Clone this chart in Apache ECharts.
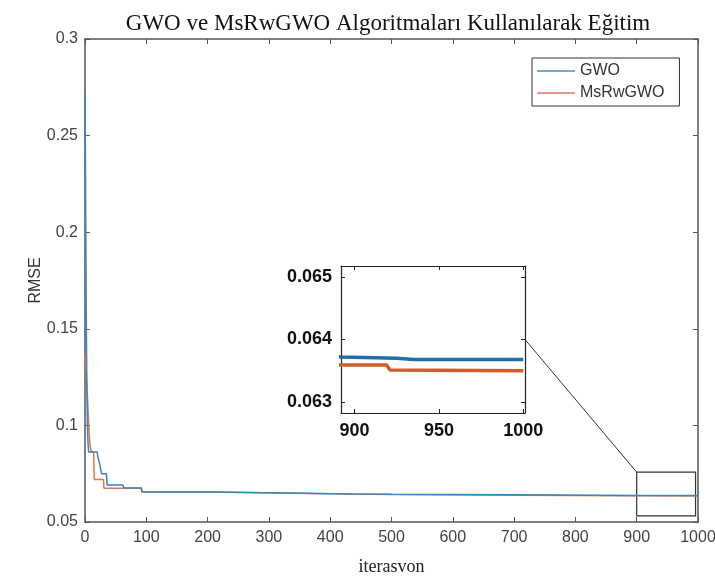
<!DOCTYPE html>
<html>
<head>
<meta charset="utf-8">
<script src="https://cdn.jsdelivr.net/npm/echarts@6/dist/echarts.min.js"></script>
<style>html,body{margin:0;padding:0;background:#fff}#c{width:715px;height:583px}</style>
</head>
<body>
<div id="c"></div>
<script>
const titleText = 'GWO ve MsRwGWO Algoritmaları Kullanılarak Eğitim';
const seriesNames = ['GWO', 'MsRwGWO'];
const xTicksMain = [0, 1000, 100];
const yTicksMain = [0.05, 0.3, 0.05];
const insetXTicks = [900, 950, 1000];
const insetYTicks = [0.063, 0.064, 0.065];

const gwoIter = [0, 1, 2, 3, 4, 5, 6, 20, 21, 23, 24, 26, 27, 35, 36, 62, 63, 92, 93, 205, 206, 430, 500, 700, 892, 925, 935, 1000];
const gwoRmse = [0.271, 0.22, 0.16, 0.12, 0.1, 0.09, 0.0862, 0.0862, 0.0835, 0.0835, 0.080, 0.080, 0.075, 0.075, 0.0692, 0.0692, 0.0676, 0.0676, 0.0655, 0.0655, 0.0646, 0.0645, 0.0643, 0.0641, 0.06372, 0.06370, 0.06368, 0.06368];

const msrIter = [0, 2, 4, 6, 8, 10, 14, 15, 30, 31, 92, 93, 205, 206, 500, 700, 892, 919, 921, 1000];
const msrRmse = [0.137, 0.128, 0.115, 0.1, 0.09, 0.0865, 0.086, 0.072, 0.072, 0.0675, 0.0675, 0.0656, 0.0655, 0.0645, 0.0642, 0.0639, 0.06359, 0.06359, 0.06351, 0.0635];

const zoomBox = [[900, 0.0532], [996, 0.0758]];

const gwoData = gwoIter.map((x, i) => [x, gwoRmse[i]]);
const msrData = msrIter.map((x, i) => [x, msrRmse[i]]);

const chart = echarts.init(document.getElementById('c'), null, {renderer: 'canvas'});
const sans = 'Liberation Sans, Arial, sans-serif';
const serif = 'Liberation Serif, Times New Roman, serif';
const axisCol = '#555';
const plain = v => String(v);

function mainX(pos, show) {
  return {
    type: 'value', gridIndex: 0, position: pos, min: xTicksMain[0], max: xTicksMain[1], interval: xTicksMain[2],
    axisLine: {show: true, onZero: false, lineStyle: {color: axisCol, width: 1.5}},
    axisTick: {show: true, inside: true, length: 5, lineStyle: {color: axisCol}},
    axisLabel: {show: show, color: '#444', fontSize: 16, fontFamily: sans, margin: 8, formatter: plain, hideOverlap: false},
    splitLine: {show: false}
  };
}
function mainY(pos, show) {
  return {
    type: 'value', gridIndex: 0, position: pos, min: yTicksMain[0], max: yTicksMain[1], interval: yTicksMain[2],
    axisLine: {show: true, onZero: false, lineStyle: {color: axisCol, width: 1.5}},
    axisTick: {show: true, inside: true, length: 5, lineStyle: {color: axisCol}},
    axisLabel: {show: show, color: '#444', fontSize: 16, fontFamily: sans, margin: 7},
    splitLine: {show: false}
  };
}
function insetX(pos, show) {
  return {
    type: 'value', gridIndex: 1, position: pos, min: 892, max: 1001,
    axisLine: {show: true, onZero: false, lineStyle: {color: '#222', width: 1.2}},
    axisTick: {show: true, inside: true, length: 4, customValues: insetXTicks, lineStyle: {color: '#222'}},
    axisLabel: {show: show, customValues: insetXTicks, color: '#111', fontSize: 18, fontWeight: 'bold', fontFamily: sans, margin: 9, formatter: plain},
    splitLine: {show: false}
  };
}
function insetY(pos, show) {
  return {
    type: 'value', gridIndex: 1, position: pos, min: 0.06282, max: 0.06518,
    axisLine: {show: true, onZero: false, lineStyle: {color: '#222', width: 1.2}},
    axisTick: {show: true, inside: true, length: 4, customValues: insetYTicks, lineStyle: {color: '#222'}},
    axisLabel: {show: show, customValues: insetYTicks, color: '#111', fontSize: 18, fontWeight: 'bold', fontFamily: sans, margin: 9,
      formatter: v => v.toFixed(3)},
    splitLine: {show: false}
  };
}

const xm = mainX('bottom', true);
xm.name = 'iterasvon';
xm.nameLocation = 'middle';
xm.nameGap = 36;
xm.nameMoveOverlap = false;
xm.nameTextStyle = {fontFamily: serif, fontSize: 18, color: '#222'};
const ym = mainY('left', true);
ym.name = 'RMSE';
ym.nameLocation = 'middle';
ym.nameGap = 41;
ym.nameMoveOverlap = false;
ym.nameTextStyle = {fontFamily: sans, fontSize: 16, color: '#333'};

const option = {
  animation: false,
  backgroundColor: '#fff',
  title: {
    text: titleText, left: 383, top: 7, textAlign: 'center',
    textStyle: {fontFamily: serif, fontSize: 23, fontWeight: 'normal', color: '#111'}
  },
  legend: {
    left: 532, top: 58, orient: 'vertical', padding: [5, 15, 5, 5], itemGap: 6,
    borderColor: '#333', borderWidth: 1, backgroundColor: '#fff',
    itemWidth: 38, itemHeight: 2, icon: 'rect',
    textStyle: {fontFamily: sans, fontSize: 16, color: '#333'},
    data: [
      {name: seriesNames[0], itemStyle: {color: '#6fa8d0'}},
      {name: seriesNames[1], itemStyle: {color: '#e09a8a'}}
    ]
  },
  grid: [
    {left: 85, top: 39, right: 17, bottom: 61, containLabel: false, outerBoundsMode: 'none'},
    {left: 341, top: 266, width: 184, height: 147, show: true, backgroundColor: '#fff', borderWidth: 0, containLabel: false, outerBoundsMode: 'none'}
  ],
  xAxis: [xm, mainX('top', false), insetX('bottom', true), insetX('top', false)],
  yAxis: [ym, mainY('right', false), insetY('left', true), insetY('right', false)],
  series: [
    {
      name: seriesNames[0], type: 'line', xAxisIndex: 0, yAxisIndex: 0, data: gwoData,
      symbol: 'none', lineStyle: {color: '#3a86bd', width: 1.5}, itemStyle: {color: '#3a86bd'}, z: 3,
      markArea: {
        silent: true,
        itemStyle: {color: 'rgba(0,0,0,0)', borderColor: '#333', borderWidth: 1.2},
        data: [[{coord: zoomBox[0]}, {coord: zoomBox[1]}]]
      }
    },
    {
      name: seriesNames[1], type: 'line', xAxisIndex: 0, yAxisIndex: 0, data: msrData,
      symbol: 'none', lineStyle: {color: '#d97a4f', width: 1.5}, itemStyle: {color: '#d97a4f'}, z: 2
    },
    {
      name: seriesNames[0], type: 'line', xAxisIndex: 2, yAxisIndex: 2, data: gwoData, clip: true,
      symbol: 'none', lineStyle: {color: '#1f6fae', width: 3.5}, itemStyle: {color: '#1f6fae'}
    },
    {
      name: seriesNames[1], type: 'line', xAxisIndex: 2, yAxisIndex: 2, data: msrData, clip: true,
      symbol: 'none', lineStyle: {color: '#cf5e2a', width: 3.5}, itemStyle: {color: '#cf5e2a'}
    }
  ]
};
chart.setOption(option);

const p1 = chart.convertToPixel({xAxisIndex: 2, yAxisIndex: 2}, [1001, 0.064]);
const p2 = chart.convertToPixel({xAxisIndex: 0, yAxisIndex: 0}, [zoomBox[0][0], zoomBox[1][1]]);
chart.setOption({
  graphic: [{
    type: 'line', silent: true, z: 10,
    shape: {x1: p1[0], y1: p1[1], x2: p2[0], y2: p2[1]},
    style: {stroke: '#333', lineWidth: 1}
  }]
});
</script>
</body>
</html>
